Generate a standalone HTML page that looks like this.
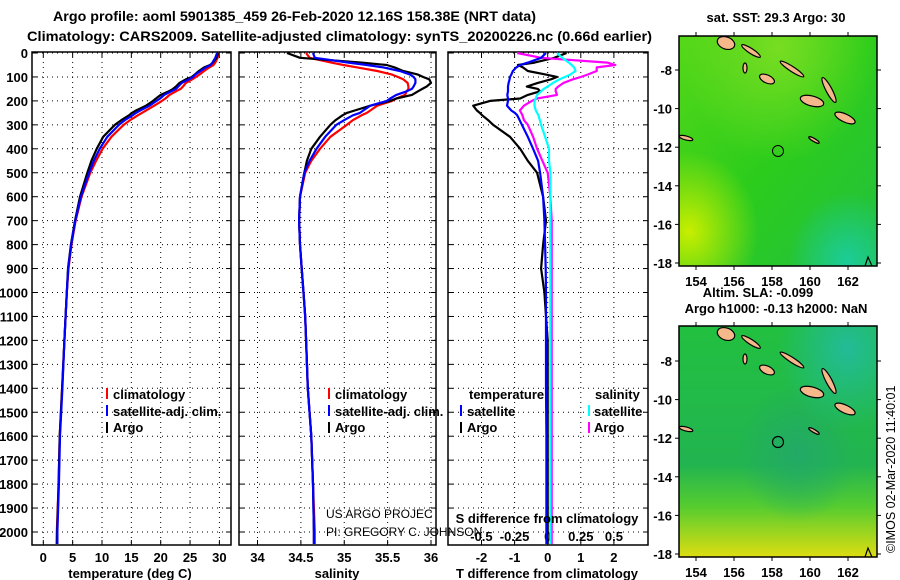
<!DOCTYPE html>
<html><head><meta charset="utf-8"><style>
body{margin:0;background:#fff;}
svg{display:block;font-family:"Liberation Sans",sans-serif;}
.b{font-weight:bold;font-size:13px;}
</style></head><body>
<svg id="c" width="900" height="580" viewBox="0 0 900 580">
<defs>
<linearGradient id="g1" x1="0" y1="0" x2="1" y2="1"><stop offset="0" stop-color="#55d818"/><stop offset="0.5" stop-color="#2ccc1c"/><stop offset="1" stop-color="#22c040"/></linearGradient>
<radialGradient id="y1" cx="0.05" cy="0.85" r="0.35"><stop offset="0" stop-color="#c8ee00"/><stop offset="1" stop-color="#c8ee00" stop-opacity="0"/></radialGradient>
<radialGradient id="t1" cx="0.85" cy="0.98" r="0.3"><stop offset="0" stop-color="#1ccc99"/><stop offset="1" stop-color="#1ccc99" stop-opacity="0"/></radialGradient>
<radialGradient id="n1" cx="0.5" cy="0.05" r="0.5"><stop offset="0" stop-color="#77dd22"/><stop offset="1" stop-color="#77dd22" stop-opacity="0"/></radialGradient>
<linearGradient id="g2" x1="0" y1="0" x2="0" y2="1"><stop offset="0" stop-color="#22c040"/><stop offset="0.6" stop-color="#22b450"/><stop offset="0.78" stop-color="#55cc30"/><stop offset="1" stop-color="#dddd11"/></linearGradient>
<radialGradient id="t2" cx="0.85" cy="0.1" r="0.35"><stop offset="0" stop-color="#22bb99"/><stop offset="1" stop-color="#22bb99" stop-opacity="0"/></radialGradient>
<radialGradient id="m2" cx="0.6" cy="0.55" r="0.3"><stop offset="0" stop-color="#22aa66"/><stop offset="1" stop-color="#22aa66" stop-opacity="0"/></radialGradient>
</defs>
</svg>
<script>
const depths=[0,20,40,50,60,75,90,100,110,125,140,150,160,175,190,200,220,240,250,260,280,300,350,400,450,500,600,700,800,900,1000,1100,1200,1400,1600,1800,2000,2050];
const tArgo=[29.8,29.5,28.9,28.4,27.4,26.5,25.8,25.3,24.3,23.2,22.6,22.1,21.4,20.0,19.2,18.7,17.5,15.8,15.1,14.6,13.3,12.2,10.2,9.1,8.2,7.5,6.25,5.4,4.7,4.2,4.0,3.8,3.6,3.2,2.8,2.6,2.35,2.3];
const tClim=[29.9,29.7,29.3,29.0,28.3,27.4,26.6,26.0,25.4,24.3,23.8,23.4,22.6,21.5,20.8,20.2,18.9,17.5,16.8,16.1,14.8,13.7,11.6,10.1,9.0,8.0,6.5,5.5,4.8,4.3,4.0,3.8,3.6,3.2,2.8,2.6,2.3,2.3];
const tSat=[29.6,29.3,28.8,28.5,27.7,26.8,25.9,25.5,24.8,23.6,23.0,22.6,21.8,20.6,19.9,19.3,18.1,16.5,15.8,15.2,13.9,12.9,10.9,9.6,8.6,7.8,6.4,5.45,4.75,4.25,4.0,3.8,3.6,3.25,2.85,2.65,2.4,2.4];
const sArgo=[34.34,34.49,35.2,35.49,35.58,35.68,35.85,35.91,35.98,36.0,35.95,35.9,35.85,35.78,35.6,35.53,35.3,35.12,35.03,34.98,34.9,34.84,34.72,34.62,34.57,34.54,34.49,34.48,34.49,34.51,34.53,34.55,34.56,34.58,34.62,34.64,34.65,34.65];
const sClim=[34.56,34.6,34.85,34.99,35.15,35.38,35.55,35.62,35.68,35.73,35.74,35.74,35.72,35.7,35.6,35.55,35.38,35.3,35.26,35.2,35.1,35.03,34.84,34.72,34.62,34.55,34.49,34.48,34.49,34.51,34.53,34.55,34.56,34.58,34.62,34.64,34.66,34.66];
const sSat=[34.64,34.66,35.05,35.26,35.45,35.64,35.76,35.8,35.82,35.82,35.8,35.78,35.72,35.6,35.53,35.49,35.3,35.22,35.18,35.1,35.0,34.91,34.78,34.68,34.6,34.54,34.49,34.48,34.49,34.51,34.53,34.55,34.56,34.58,34.62,34.64,34.65,34.65];
const dTArgo=[0.57,0.2,-0.4,-0.9,-0.75,-0.6,-0.05,0.28,0.1,-0.3,-0.63,-0.3,-0.23,-0.6,-0.83,-1.74,-2.25,-2.14,-2.05,-1.98,-1.8,-1.65,-1.14,-0.83,-0.6,-0.32,-0.14,-0.05,-0.14,-0.2,-0.1,-0.05,0,0,0,0,0,0];
const dTSat=[-0.05,-0.2,-0.6,-0.83,-0.95,-1.05,-1.1,-1.14,-1.15,-1.18,-1.2,-1.2,-1.2,-1.22,-1.2,-1.2,-1.23,-1.1,-0.99,-0.92,-0.85,-0.78,-0.6,-0.44,-0.29,-0.23,-0.14,-0.1,-0.08,-0.06,-0.05,-0.05,-0.05,-0.05,-0.04,-0.04,-0.04,-0.04];
const dSArgo=[-0.23,-0.05,0.45,0.51,0.37,0.37,0.3,0.25,0.19,0.12,0.08,0.06,0.06,0.07,-0.08,-0.12,-0.18,-0.21,-0.2,-0.19,-0.18,-0.15,-0.11,-0.08,-0.04,0.0,0.02,0.03,0.03,0.03,0.03,0.03,0.03,0.03,0.03,0.03,0.03,0.03];
const dSSat=[0.07,0.11,0.16,0.18,0.2,0.21,0.17,0.13,0.09,0.04,0.0,-0.03,-0.05,-0.08,-0.09,-0.1,-0.1,-0.09,-0.08,-0.07,-0.06,-0.05,-0.02,0.01,0.01,0.02,0.02,0.02,0.02,0.02,0.02,0.02,0.02,0.02,0.02,0.02,0.02,0.02];
const depthTicks=[0,100,200,300,400,500,600,700,800,900,1000,1100,1200,1300,1400,1500,1600,1700,1800,1900,2000];
const tTicks=[0,5,10,15,20,25,30];
const sTicks=[34,34.5,35,35.5,36];
const dTTicks=[-2,-1,0,1,2];
const dSTicks=[-0.5,-0.25,0,0.25,0.5];
const lonTicks=[154,156,158,160,162];
const latTicks=[-8,-10,-12,-14,-16,-18];

const NS='http://www.w3.org/2000/svg';
const svg=document.getElementById('c');
function el(tag,attrs,parent,text){const e=document.createElementNS(NS,tag);for(const k in attrs)e.setAttribute(k,attrs[k]);if(text!==undefined)e.textContent=text;(parent||svg).appendChild(e);return e;}
const yD=d=>53+d*0.2395;
const TOP=52,BOT=545;
const panels=[
 {name:'temperature-panel',x0:32,x1:231,f:v=>43.3+v*5.87,ticks:tTicks},
 {name:'salinity-panel',x0:239,x1:436,f:v=>257.5+(v-34)*86.75,ticks:sTicks},
 {name:'difference-panel',x0:448,x1:648,f:v=>547.7+v*33.1,ticks:dTTicks}
];
const fS=v=>547.7+v*132.5;
panels.forEach((p,pi)=>{
 const g=el('g',{});
 
 
 depthTicks.forEach(d=>{const y=yD(d);
  const l=el('line',{x1:p.x0,x2:p.x1,y1:y,y2:y,stroke:'#000','stroke-width':1,'stroke-dasharray':'1,4'},g);
  
  
  el('line',{x1:p.x0,x2:p.x0+5,y1:y,y2:y,stroke:'#000'},g);
  el('line',{x1:p.x1-5,x2:p.x1,y1:y,y2:y,stroke:'#000'},g);
 });
 p.ticks.forEach(v=>{const x=p.f(v);
  const l=el('line',{x1:x,x2:x,y1:TOP,y2:BOT,stroke:'#000','stroke-width':1,'stroke-dasharray':'1,4'},g);
  
  
  el('line',{x1:x,x2:x,y1:TOP,y2:TOP+5,stroke:'#000'},g);
  el('line',{x1:x,x2:x,y1:BOT-5,y2:BOT,stroke:'#000'},g);
  const t=el('text',{x:x,y:562,'text-anchor':'middle',class:'b'},g,String(v));
  
  
 });
 el('rect',{x:p.x0,y:TOP,width:p.x1-p.x0,height:BOT-TOP,fill:'none',stroke:'#000','stroke-width':1.5},g);
});
depthTicks.forEach(d=>{
 const t=el('text',{x:28,y:yD(d)+5,'text-anchor':'end',class:'b'},svg,String(d));
 
 
});
dSTicks.forEach(v=>{
 const t=el('text',{x:fS(v),y:541,'text-anchor':'middle',class:'b'},svg,String(v));
 
 
});
function line(vals,f,color,name){
 const pts=depths.map((d,i)=>f(vals[i]).toFixed(1)+','+yD(d).toFixed(1)).join(' ');
 const pl=el('polyline',{points:pts,fill:'none',stroke:color,'stroke-width':2.2,'stroke-linejoin':'round'});
 
 
}
line(tClim,panels[0].f,'#ff0000','temperature-climatology-line');
line(tArgo,panels[0].f,'#000000','temperature-argo-line');
line(tSat,panels[0].f,'#0000ff','temperature-satellite-line');
line(sClim,panels[1].f,'#ff0000','salinity-climatology-line');
line(sArgo,panels[1].f,'#000000','salinity-argo-line');
line(sSat,panels[1].f,'#0000ff','salinity-satellite-line');
line(dTArgo,panels[2].f,'#000000','t-diff-argo-line');
line(dSArgo,fS,'#ff00ff','s-diff-argo-line');
line(dTSat,panels[2].f,'#0000ff','t-diff-satellite-line');
line(dSSat,fS,'#00ffff','s-diff-satellite-line');

// map ticks
function mapTicks(y0,y1,lat8){
 lonTicks.forEach(v=>{const x=696+(v-154)*19;
  el('line',{x1:x,x2:x,y1:y0,y2:y0-4,stroke:'#000'});el('line',{x1:x,x2:x,y1:y1,y2:y1+4,stroke:'#000'});
  const t=el('text',{x:x,y:y1+20,'text-anchor':'middle',class:'b'},svg,String(v));
  
  
 });
 latTicks.forEach(v=>{const y=lat8+(-8-v)*19.3;
  el('line',{x1:675,x2:679,y1:y,y2:y,stroke:'#000'});el('line',{x1:877,x2:881,y1:y,y2:y,stroke:'#000'});
  const t=el('text',{x:672,y:y+5,'text-anchor':'end',class:'b'},svg,String(v));
  
  
 });
}
mapTicks(36,266,70);
mapTicks(326,557,361);
</script>
<svg width="900" height="580" viewBox="0 0 900 580" style="position:absolute;left:0;top:0;font-family:'Liberation Sans',sans-serif">
<g>
<rect x="679" y="36" width="198" height="230" fill="url(#g1)"/>
<rect x="679" y="36" width="198" height="230" fill="url(#n1)"/>
<rect x="679" y="36" width="198" height="230" fill="url(#y1)"/>
<rect x="679" y="36" width="198" height="230" fill="url(#t1)"/>
<g id="isl" fill="#f5b88a" stroke="#000" stroke-width="1.2">
<ellipse cx="726" cy="43" rx="9" ry="6" transform="rotate(20 726 43)"/>
<ellipse cx="751" cy="51" rx="11" ry="2.5" transform="rotate(33 751 51)"/>
<ellipse cx="792" cy="69" rx="14" ry="2.5" transform="rotate(33 792 69)"/>
<ellipse cx="767" cy="79" rx="8" ry="4" transform="rotate(25 767 79)"/>
<ellipse cx="745" cy="68" rx="2" ry="5"/>
<ellipse cx="812" cy="101" rx="12" ry="5" transform="rotate(15 812 101)"/>
<ellipse cx="829" cy="90" rx="14" ry="3" transform="rotate(62 829 90)"/>
<ellipse cx="845" cy="118" rx="11" ry="4" transform="rotate(25 845 118)"/>
<ellipse cx="686" cy="138" rx="7" ry="2" transform="rotate(15 686 138)"/>
<ellipse cx="814" cy="140" rx="6" ry="1.5" transform="rotate(30 814 140)"/>
<path d="M865 266 L868 257 L872 266" fill="none"/>
</g>
<circle cx="778" cy="151" r="5.5" fill="none" stroke="#000"/>
<rect x="679" y="36" width="198" height="230" fill="none" stroke="#000" stroke-width="1.5"/>
</g>
<g>
<rect x="679" y="326" width="198" height="231" fill="url(#g2)"/>
<rect x="679" y="326" width="198" height="231" fill="url(#m2)"/>
<rect x="679" y="326" width="198" height="231" fill="url(#t2)"/>
<g transform="translate(0,291)" fill="#f5b88a" stroke="#000" stroke-width="1.2">
<ellipse cx="726" cy="43" rx="9" ry="6" transform="rotate(20 726 43)"/>
<ellipse cx="751" cy="51" rx="11" ry="2.5" transform="rotate(33 751 51)"/>
<ellipse cx="792" cy="69" rx="14" ry="2.5" transform="rotate(33 792 69)"/>
<ellipse cx="767" cy="79" rx="8" ry="4" transform="rotate(25 767 79)"/>
<ellipse cx="745" cy="68" rx="2" ry="5"/>
<ellipse cx="812" cy="101" rx="12" ry="5" transform="rotate(15 812 101)"/>
<ellipse cx="829" cy="90" rx="14" ry="3" transform="rotate(62 829 90)"/>
<ellipse cx="845" cy="118" rx="11" ry="4" transform="rotate(25 845 118)"/>
<ellipse cx="686" cy="138" rx="7" ry="2" transform="rotate(15 686 138)"/>
<ellipse cx="814" cy="140" rx="6" ry="1.5" transform="rotate(30 814 140)"/>
<path d="M865 266 L868 257 L872 266" fill="none"/>
<circle cx="778" cy="151" r="5.5" fill="none"/>
</g>
<rect x="679" y="326" width="198" height="231" fill="none" stroke="#000" stroke-width="1.5"/>
</g>
<g font-weight="bold" font-size="13" fill="#000">
<text x="53" y="21" textLength="483" lengthAdjust="spacingAndGlyphs" font-size="14">Argo profile: aoml 5901385_459 26-Feb-2020 12.16S 158.38E (NRT data)</text>
<text x="27" y="41" textLength="625" lengthAdjust="spacingAndGlyphs" font-size="14">Climatology: CARS2009. Satellite-adjusted climatology: synTS_20200226.nc (0.66d earlier)</text>
<text x="776" y="22" text-anchor="middle">sat. SST: 29.3 Argo: 30</text>
<text x="758" y="297" text-anchor="middle">Altim. SLA: -0.099</text>
<text x="776" y="313" text-anchor="middle">Argo h1000: -0.13 h2000: NaN</text>
<text x="130" y="578" text-anchor="middle">temperature (deg C)</text>
<text x="337" y="578" text-anchor="middle">salinity</text>
<text x="547" y="578" text-anchor="middle">T difference from climatology</text>
<text x="547" y="523" text-anchor="middle">S difference from climatology</text>
<g>
<rect x="106" y="388" width="2" height="11" fill="#f00"/><text x="113" y="399">climatology</text>
<rect x="106" y="405" width="2" height="11" fill="#00f"/><text x="113" y="416">satellite-adj. clim.</text>
<rect x="106" y="422" width="2" height="11" fill="#000"/><text x="113" y="432">Argo</text>
</g>
<g>
<rect x="328" y="388" width="2" height="11" fill="#f00"/><text x="335" y="399">climatology</text>
<rect x="328" y="405" width="2" height="11" fill="#00f"/><text x="335" y="416">satellite-adj. clim.</text>
<rect x="328" y="422" width="2" height="11" fill="#000"/><text x="335" y="432">Argo</text>
</g>
<g>
<text x="469" y="399">temperature</text><text x="595" y="399">salinity</text>
<rect x="460" y="405" width="2" height="11" fill="#00f"/><text x="467" y="416">satellite</text>
<rect x="588" y="405" width="2" height="11" fill="#0ff"/><text x="594" y="416">satellite</text>
<rect x="460" y="422" width="2" height="11" fill="#000"/><text x="467" y="432">Argo</text>
<rect x="588" y="422" width="2" height="11" fill="#f0f"/><text x="594" y="432">Argo</text>
</g>
</g>
<g font-size="12" fill="#000">
<text x="326" y="518">US ARGO PROJEC</text>
<text x="326" y="536">PI: GREGORY C. JOHNSON</text>
<text x="0" y="0" transform="translate(895,553) rotate(-90)" font-size="12.5">©IMOS 02-Mar-2020 11:40:01</text>
</g>
</svg>
</body></html>
